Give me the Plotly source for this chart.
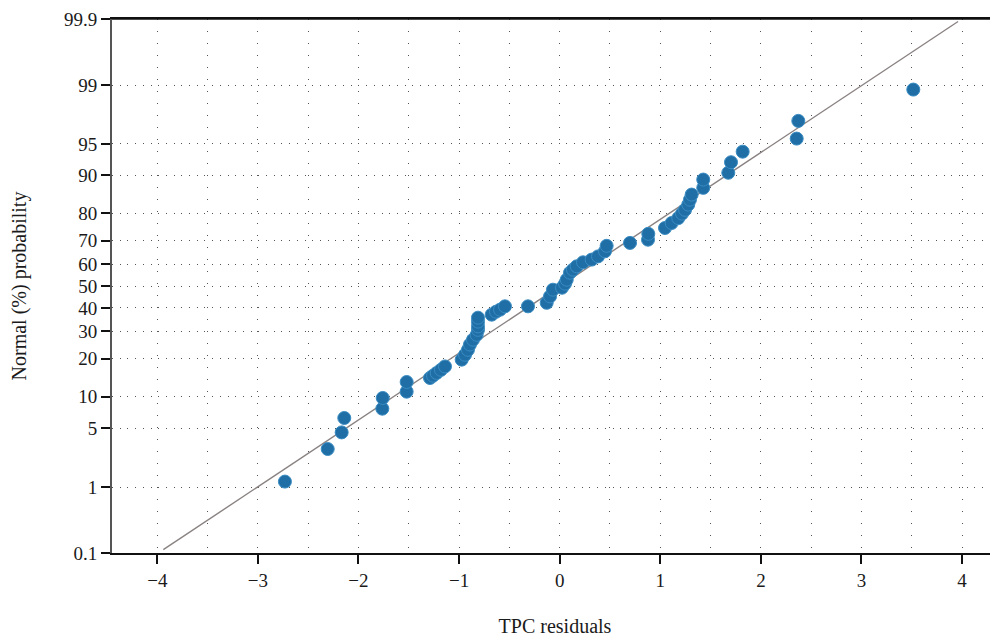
import plotly.graph_objects as go
from statistics import NormalDist

# Data
residuals = [-2.731, -2.306, -2.167, -2.141, -1.763, -1.759, -1.521, -1.521,
             -1.289, -1.259, -1.223, -1.180, -1.140, -0.974, -0.941, -0.912,
             -0.892, -0.862, -0.825, -0.812, -0.812, -0.812, -0.812, -0.676,
             -0.633, -0.593, -0.544, -0.315, -0.129, -0.096, -0.067, 0.023,
             0.053, 0.070, 0.102, 0.132, 0.169, 0.232, 0.318, 0.381, 0.450,
             0.467, 0.699, 0.878, 0.881, 1.047, 1.113, 1.179, 1.216, 1.246,
             1.278, 1.295, 1.312, 1.427, 1.427, 1.676, 1.703, 1.819, 2.356,
             2.372, 3.515]
probability_pct = [1.18, 2.96, 4.51, 6.33, 7.78, 9.75, 11.07, 13.33,
                   14.35, 14.96, 15.7, 16.6, 17.6, 19.7, 21.3, 23.0,
                   24.9, 26.7, 28.6, 30.6, 32.0, 34.0, 35.7, 37.0,
                   38.3, 39.2, 40.7, 40.7, 42.3, 45.2, 48.3, 49.2,
                   51.1, 52.9, 56.1, 57.5, 59.0, 60.8, 62.0, 63.4, 65.6,
                   67.9, 69.1, 70.4, 72.7, 74.9, 76.7, 78.4, 79.9, 81.1,
                   82.7, 84.1, 85.5, 87.2, 89.1, 90.5, 92.4, 94.0, 95.6,
                   97.2, 98.85]
# reference normal line (end points)
line_pct = [0.114, 99.89]
line_resid = [-3.94, 3.96]

y_tick_pct = [0.1, 1, 5, 10, 20, 30, 40, 50, 60, 70, 80, 90, 95, 99, 99.9]
y_tick_text = ["0.1", "1", "5", "10", "20", "30", "40", "50", "60", "70",
               "80", "90", "95", "99", "99.9"]
x_tick_vals = [-4, -3, -2, -1, 0, 1, 2, 3, 4]
x_tick_text = ["\u22124", "\u22123", "\u22122", "\u22121", "0", "1", "2", "3", "4"]

nd = NormalDist()
def z(p):
    return nd.inv_cdf(p / 100.0)

FONT = "Liberation Serif, Times New Roman, serif"

fig = go.Figure()
fig.add_trace(go.Scatter(
    x=line_resid, y=[z(p) for p in line_pct], mode="lines",
    line=dict(color="#8a8282", width=1.4), hoverinfo="skip", showlegend=False))
fig.add_trace(go.Scatter(
    x=residuals, y=[z(p) for p in probability_pct], mode="markers",
    marker=dict(size=13, color="#1f6ea6", line=dict(color="#3a8cc2", width=1)),
    showlegend=False))

ymin, ymax = z(0.1), z(99.9)
# page body adds an 8px offset, so the figure is sized to fill the rest of the window
fig.update_layout(
    width=990, height=629,
    margin=dict(l=104, r=0, t=11, b=84, autoexpand=False),
    plot_bgcolor="white", paper_bgcolor="white",
    font=dict(family=FONT, size=18, color="#1a1a1a"),
    xaxis=dict(
        range=[-4.45, 4.357], tickvals=x_tick_vals, ticktext=x_tick_text,
        automargin=False,
        showline=True, linecolor="#111", linewidth=1.5, mirror=True,
        ticks="outside", ticklen=9, tickwidth=2, tickcolor="#111",
        showgrid=True, gridcolor="#555", gridwidth=1, griddash="1px,11px",
        minor=dict(dtick=0.5, tick0=0, showgrid=True, gridcolor="#555",
                   gridwidth=1, griddash="1px,11px", ticks=""),
        zeroline=False,
        title=dict(text="TPC residuals", standoff=30, font=dict(size=20)),
        tickfont=dict(size=19),
    ),
    yaxis=dict(
        range=[ymin, ymax], tickvals=[z(p) for p in y_tick_pct], ticktext=y_tick_text,
        automargin=False,
        showline=True, linecolor="#555", linewidth=2,
        ticks="outside", ticklen=9, tickwidth=2, tickcolor="#111",
        showgrid=True, gridcolor="#555", gridwidth=1, griddash="1px,6.7px",
        zeroline=False,
        title=dict(text="Normal (%) probability", standoff=32, font=dict(size=20)),
        tickfont=dict(size=19),
    ),
)
fig.add_shape(type="line", xref="paper", yref="paper", x0=0, x1=1, y0=1, y1=1,
              line=dict(color="#111", width=1.5))

fig.write_html("out.html")
